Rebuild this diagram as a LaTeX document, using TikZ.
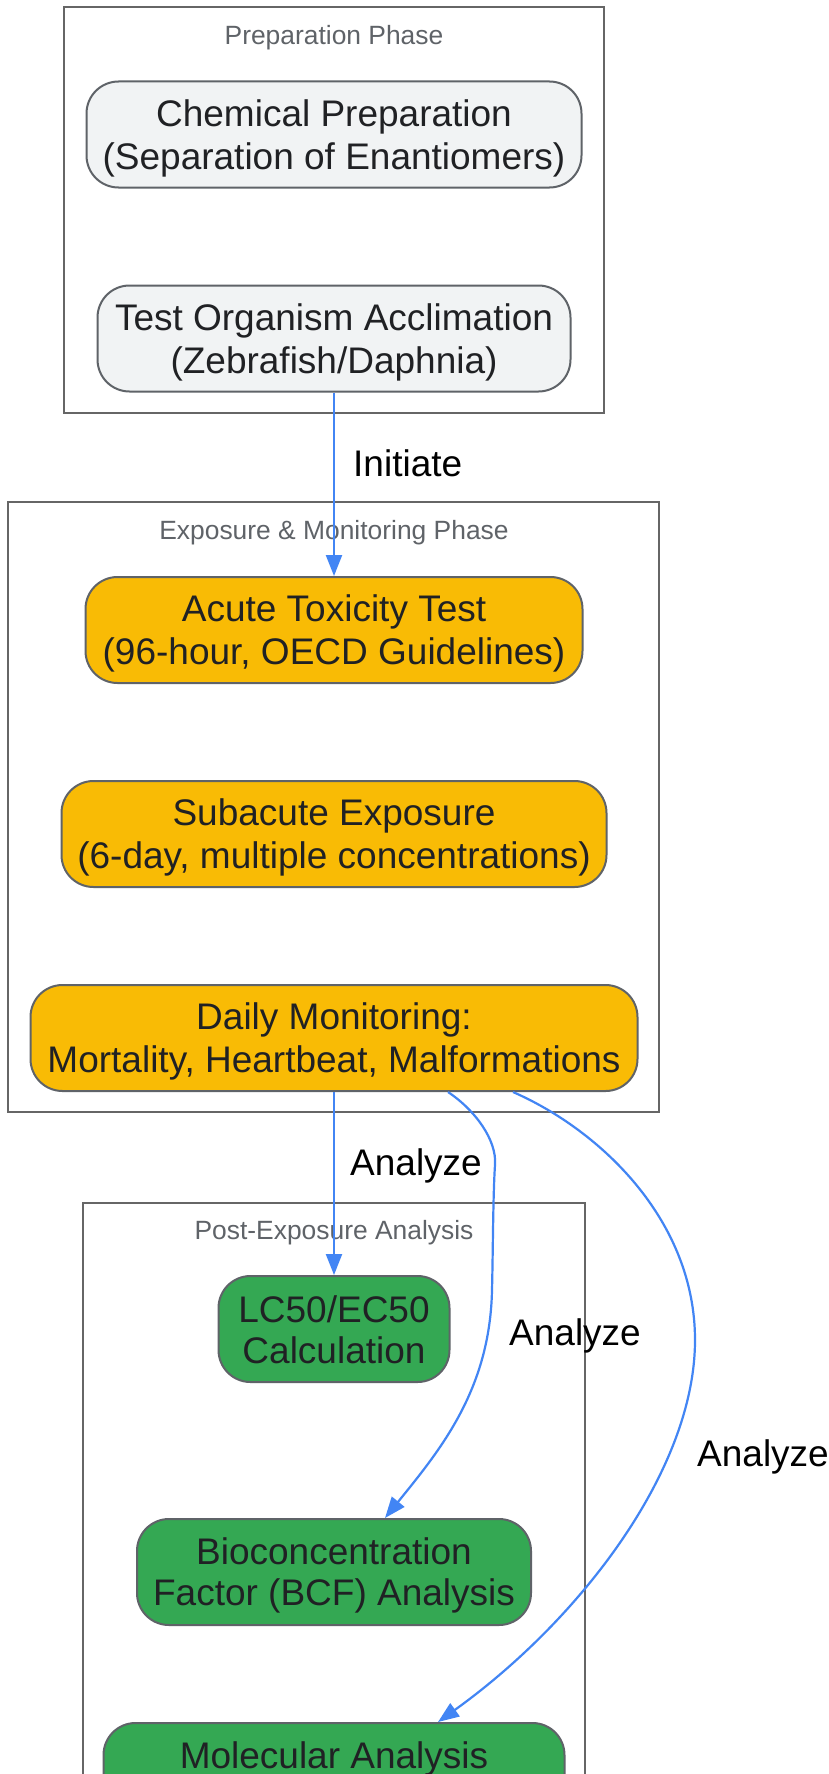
\documentclass[tikz,border=0pt]{standalone}
\usepackage{fontspec}
\setmainfont{Liberation Sans}
\usetikzlibrary{arrows.meta}
\definecolor{edgeblue}{HTML}{4285F4}
\definecolor{prepfill}{HTML}{F1F3F4}
\definecolor{nodestroke}{HTML}{5F6368}
\definecolor{orangefill}{HTML}{F9BB05}
\definecolor{greenfill}{HTML}{34A853}
\definecolor{nodetext}{HTML}{202124}
\definecolor{clustertitle}{HTML}{5F6368}
\definecolor{clusterstroke}{HTML}{666666}
\newcommand\linestrut{\rule[-7pt]{0pt}{41pt}}
\begin{document}
\begin{tikzpicture}[x=1pt,y=-1pt,
  stepbox/.style={draw=nodestroke, line width=2pt, rounded corners=32pt, align=center,
    text=nodetext, font=\fontsize{37}{41}\selectfont, inner sep=0pt, minimum height=106pt},
  prepbox/.style={stepbox, fill=prepfill},
  expobox/.style={stepbox, fill=orangefill},
  anabox/.style={stepbox, fill=greenfill},
  cluster/.style={draw=clusterstroke, line width=2pt},
  clustertitle/.style={text=clustertitle, font=\fontsize{26.4}{30}\selectfont, inner sep=0pt},
  edge/.style={draw=edgeblue, line width=2.2pt, -{Triangle[length=21pt,width=16pt]}},
  edgelabel/.style={text=black, font=\fontsize{37}{41}\selectfont, inner sep=0pt, anchor=west}
]
\useasboundingbox (0,0) rectangle (829,1774);
\clip (0,0) rectangle (829,1774);
\fill[white] (0,0) rectangle (829,1774);

% clusters
\draw[cluster] (64,7) rectangle (604,413);
\draw[cluster] (8,502) rectangle (659,1112);
\draw[cluster] (83,1203) rectangle (585,1900);
\node[clustertitle] (t1) at (334,38) {Preparation Phase};
\node[clustertitle] (t2) at (334,533) {Exposure \& Monitoring Phase};
\node[clustertitle] (t3) at (334,1233) {Post-Exposure Analysis};

% nodes
\node[prepbox, minimum width=495pt] (chem) at (334,134.5) {\linestrut Chemical Preparation\\\linestrut(Separation of Enantiomers)};
\node[prepbox, minimum width=473pt] (test) at (334,338.5) {\linestrut Test Organism Acclimation\\\linestrut(Zebrafish/Daphnia)};
\node[expobox, minimum width=497pt] (acute) at (334,630) {\linestrut Acute Toxicity Test\\\linestrut(96-hour, OECD Guidelines)};
\node[expobox, minimum width=545pt] (sub) at (334,834) {\linestrut Subacute Exposure\\\linestrut(6-day, multiple concentrations)};
\node[expobox, minimum width=607pt] (daily) at (334,1038) {\linestrut Daily Monitoring:\\\linestrut Mortality, Heartbeat, Malformations};
\node[anabox, minimum width=231pt] (lc50) at (334,1329) {\linestrut LC50/EC50\\\linestrut Calculation};
\node[anabox, minimum width=394pt] (bio) at (334,1572) {\linestrut Bioconcentration\\\linestrut Factor (BCF) Analysis};
\node[anabox, minimum width=461pt] (mol) at (334,1776) {\linestrut Molecular Analysis\\\linestrut};

% edges
\draw[edge] (test) -- (acute);
\draw[edge] (daily) -- (lc50);
\draw[edge] ([xshift=114pt]daily.south) .. controls (475,1110) and (497,1140) .. (495,1165)
  .. controls (493,1195) and (493,1250) .. (492,1290)
  .. controls (490,1390) and (440,1450) .. ([xshift=51pt]bio.north);
\draw[edge] ([xshift=179pt]daily.south) .. controls (600,1130) and (695,1220) .. (695,1340)
  .. controls (695,1470) and (580,1620) .. ([xshift=104pt]mol.north);

% edge labels
\node[edgelabel] (l1) at (353,463) {Initiate};
\node[edgelabel] (l2) at (350,1165.5) {Analyze};
\node[edgelabel] (l3) at (509,1335.5) {Analyze};
\node[edgelabel] (l4) at (697,1456.5) {Analyze};
\end{tikzpicture}
\end{document}
